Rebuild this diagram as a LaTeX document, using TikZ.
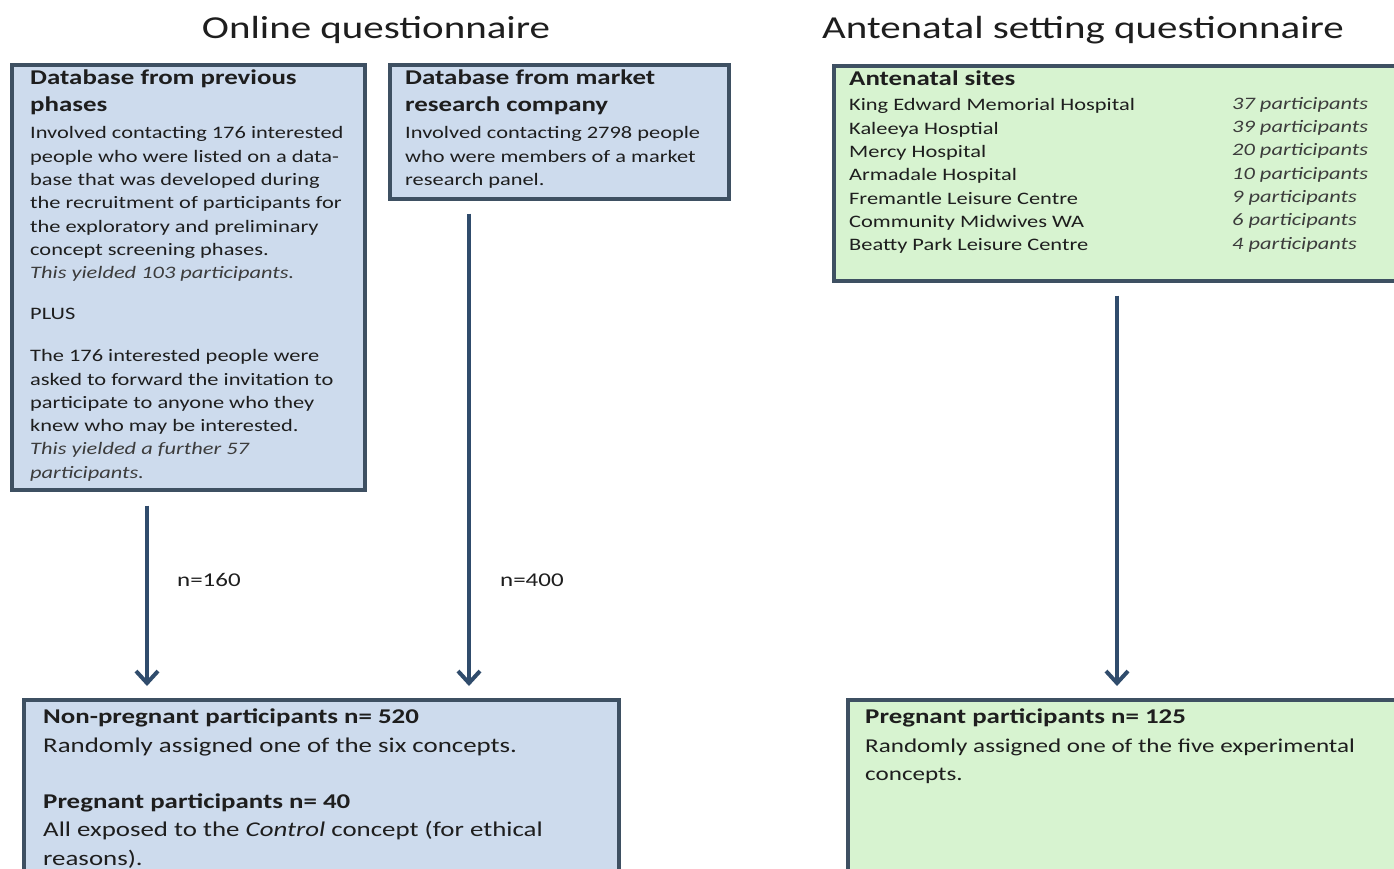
\documentclass[tikz,border=0pt]{standalone}
\usepackage{fontspec}
\setmainfont{Carlito}[FakeStretch=1.28]
\usetikzlibrary{arrows.meta,calc}
\definecolor{bfill}{RGB}{205,219,237}
\definecolor{gfill}{RGB}{215,243,208}
\definecolor{edgec}{RGB}{62,80,98}
\definecolor{arrc}{RGB}{48,76,108}
\definecolor{txtc}{RGB}{30,30,30}
\definecolor{itc}{RGB}{60,60,60}
\newcommand{\hb}[1]{{\bfseries\fontsize{21}{23.3}\selectfont #1}}
\newcommand{\itg}[1]{{\itshape\color{itc}#1}}
\begin{document}
\begin{tikzpicture}[x=1pt,y=-1pt,
  boxa/.style={draw=edgec, line width=3.5pt, anchor=north west, inner sep=0pt},
  body/.style={anchor=north west, align=left, inner sep=0pt, text=txtc,
    font=\fontsize{17.5}{23.3}\selectfont},
  big/.style={font=\fontsize{21}{28.5}\selectfont},
  arr/.style={draw=arrc, line width=4pt, -{Straight Barb[length=12pt,width=22pt]}},
  lbl/.style={anchor=west, inner sep=0pt, text=txtc, font=\fontsize{19.5}{22}\selectfont},
  ttl/.style={inner sep=0pt, text=txtc, font=\fontsize{32}{38}\selectfont}]
\useasboundingbox (0,0) rectangle (1394,868);
\clip (0,0) rectangle (1394,868);
\fill[white] (0,0) rectangle (1394,868);

% titles
\node[ttl] (t1) at (376,30) {Online questionnaire};
\node[ttl] (t2) at (1083,30) {Antenatal setting questionnaire};

% boxes
\node[boxa, fill=bfill, minimum width=353pt, minimum height=425pt] (A) at (10,63) {};
\node[boxa, fill=bfill, minimum width=339pt, minimum height=134pt] (B) at (388,63) {};
\node[boxa, fill=gfill, minimum width=590pt, minimum height=215pt] (C) at (832,64) {};
\node[boxa, fill=bfill, minimum width=595pt, minimum height=190pt] (D) at (22,698) {};
\node[boxa, fill=gfill, minimum width=570pt, minimum height=190pt] (E) at (846,698) {};

% texts
\node[body] (At) at (30,70) {\hb{Database from previous}\\[3.7pt]
\hb{phases}\\[3.7pt]
Involved contacting 176 interested\\
people who were listed on a data-\\
base that was developed during\\
the recruitment of participants for\\
the exploratory and preliminary\\
concept screening phases.\\
\itg{This yielded 103 participants.}\\[17.7pt]
PLUS\\[18.7pt]
The 176 interested people were\\
asked to forward the invitation to\\
participate to anyone who they\\
knew who may be interested.\\
\itg{This yielded a further 57}\\
\itg{participants.}};

\node[body] (Bt) at (405,70) {\hb{Database from market}\\[3.7pt]
\hb{research company}\\[3.7pt]
Involved contacting 2798 people\\
who were members of a market\\
research panel.};

\node[body] (Ct) at (849,71) {\hb{Antenatal sites}\\[1.7pt]
King Edward Memorial Hospital\\
Kaleeya Hosptial\\
Mercy Hospital\\
Armadale Hospital\\
Fremantle Leisure Centre\\
Community Midwives WA\\
Beatty Park Leisure Centre};
\node[body] (Cn) at (1232,97) {\itg{37 participants}\\
\itg{39 participants}\\
\itg{20 participants}\\
\itg{10 participants}\\
\itg{9 participants}\\
\itg{6 participants}\\
\itg{4 participants}};

\node[body, big] (Dt) at (43,709) {\textbf{Non-pregnant participants n= 520}\\
Randomly assigned one of the six concepts.\\[27.5pt]
\textbf{Pregnant participants n= 40}\\
All exposed to the \textit{Control} concept (for ethical\\
reasons).};

\node[body, big] (Et) at (865,709) {\textbf{Pregnant participants n= 125}\\
{\fontsize{19.6}{28.5}\selectfont Randomly assigned one of the five experimental}\\
{\fontsize{19.6}{28.5}\selectfont concepts.}};

% arrows
\coordinate (xa) at (147,0);
\coordinate (xb) at (469,0);
\coordinate (xc) at (1117,0);
\draw[arr] ($(A.south -| xa)+(0,14)$) -- ($(D.north -| xa)+(0,-12)$);
\draw[arr] ($(B.south -| xb)+(0,13)$) -- ($(D.north -| xb)+(0,-12)$);
\draw[arr] ($(C.south -| xc)+(0,13)$) -- ($(E.north -| xc)+(0,-12)$);

\node[lbl] (l1) at (177,580) {n=160};
\node[lbl] (l2) at (500,580) {n=400};
\end{tikzpicture}
\end{document}
